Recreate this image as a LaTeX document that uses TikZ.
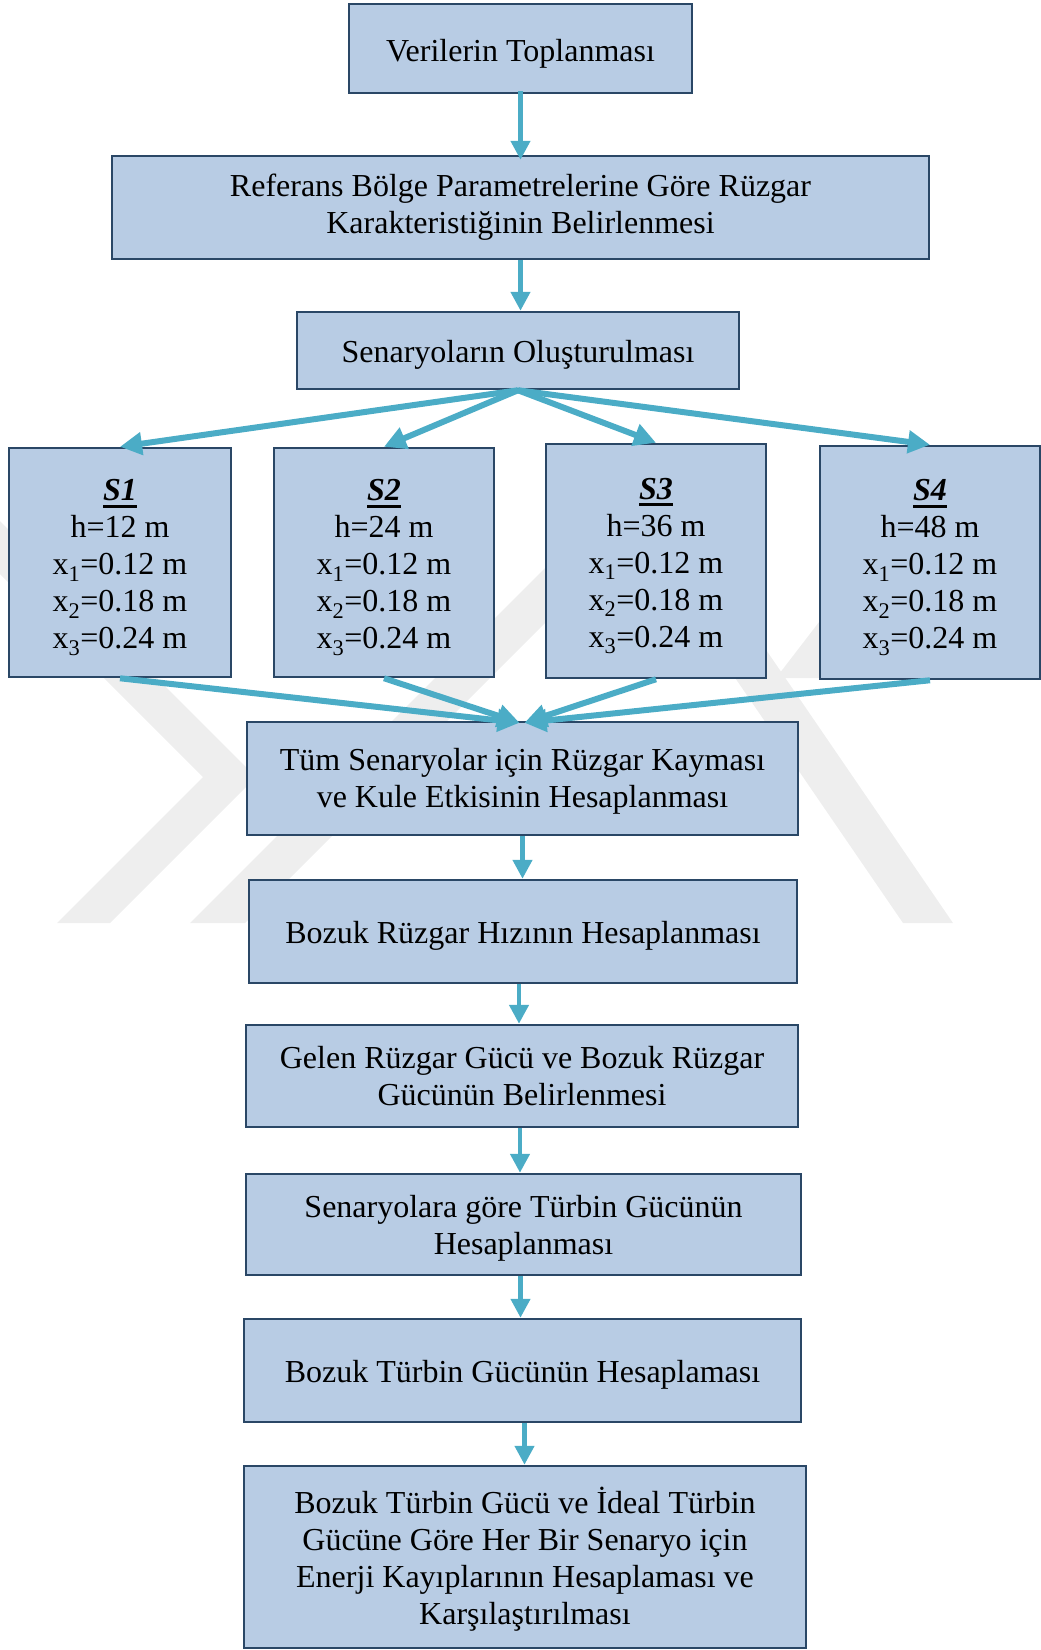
\documentclass[tikz,border=0pt]{standalone}
\usepackage{fontspec}
\setmainfont{Liberation Serif}
\usetikzlibrary{arrows.meta}
\definecolor{boxfill}{HTML}{B8CCE4}
\definecolor{boxline}{HTML}{2A4766}
\definecolor{flow}{HTML}{4BACC6}
\definecolor{markgray}{HTML}{EEEEEE}
% text block lowered by #1 pt inside its box, lines of equal height
\newcommand\stagetext[2]{\raisebox{-#1pt}[\height][\depth]{\begin{tabular}{@{}c@{}}#2\end{tabular}}}
% heavy underline for the scenario labels
\newlength\ulwidth
\newcommand\heavyul[1]{\settowidth{\ulwidth}{#1}#1\llap{\rule[-7pt]{\ulwidth}{3.2pt}}}
\newcommand\scen[1]{\heavyul{\textbf{\textit{#1}}}}
\begin{document}
\begin{tikzpicture}[x=1pt,y=-1pt,
  stage/.style={draw=boxline, line width=2.5pt, fill=boxfill, inner sep=0pt,
    font=\fontsize{32}{37}\selectfont},
  flowarrow/.style={draw=flow, line width=4.5pt, -{Triangle[length=19pt,width=19pt]}},
  fanarrow/.style={draw=flow, line width=6pt, -{Triangle[length=22pt,width=22pt]}}]
\useasboundingbox (0,0) rectangle (1041,1650);

% faint background emblem
\begin{scope}
  \clip (0,0) rectangle (1041,1650);
  \fill[markgray] (-30,491) -- (256,777) -- (110,923) -- (57,923) -- (203,777) -- (-30,544) -- cycle;
  \fill[markgray] (190,923) -- (643,470) -- (953,923) -- (903,923) -- (635.5,532.5) -- (245,923) -- cycle;
  \fill[markgray] (776,678) -- (936,470) -- (991,470) -- (831,678) -- cycle;
\end{scope}

% process steps
\node[stage, minimum width=343pt, minimum height=89pt] (data) at (520.5,48.5)
  {\stagetext{6}{Verilerin Toplanması}};
\node[stage, minimum width=817pt, minimum height=103pt] (ref) at (520.5,207.5)
  {\stagetext{0}{Referans Bölge Parametrelerine Göre Rüzgar\\Karakteristiğinin Belirlenmesi}};
\node[stage, minimum width=442pt, minimum height=77pt] (scen) at (518,350.5)
  {\stagetext{5}{Senaryoların Oluşturulması}};

% scenario boxes
\node[stage, minimum width=222pt, minimum height=229pt] (s1) at (120,562.5)
  {\stagetext{5}{\scen{S1}\\h=12 m\\x\textsubscript{1}=0.12 m\\x\textsubscript{2}=0.18 m\\x\textsubscript{3}=0.24 m}};
\node[stage, minimum width=220pt, minimum height=229pt] (s2) at (384,562.5)
  {\stagetext{5}{\scen{S2}\\h=24 m\\x\textsubscript{1}=0.12 m\\x\textsubscript{2}=0.18 m\\x\textsubscript{3}=0.24 m}};
\node[stage, minimum width=220pt, minimum height=234pt] (s3) at (656,561)
  {\stagetext{5}{\scen{S3}\\h=36 m\\x\textsubscript{1}=0.12 m\\x\textsubscript{2}=0.18 m\\x\textsubscript{3}=0.24 m}};
\node[stage, minimum width=220pt, minimum height=233pt] (s4) at (930,562.5)
  {\stagetext{5}{\scen{S4}\\h=48 m\\x\textsubscript{1}=0.12 m\\x\textsubscript{2}=0.18 m\\x\textsubscript{3}=0.24 m}};

\node[stage, minimum width=551pt, minimum height=113pt] (shear) at (522.5,778.5)
  {\stagetext{3}{Tüm Senaryolar için Rüzgar Kayması\\ve Kule Etkisinin Hesaplanması}};
\node[stage, minimum width=548pt, minimum height=103pt] (speed) at (523,931.5)
  {\stagetext{5}{Bozuk Rüzgar Hızının Hesaplanması}};
\node[stage, minimum width=552pt, minimum height=102pt] (wind) at (522,1076)
  {\stagetext{4}{Gelen Rüzgar Gücü ve Bozuk Rüzgar\\Gücünün Belirlenmesi}};
\node[stage, minimum width=555pt, minimum height=101pt] (turb) at (523.5,1224.5)
  {\stagetext{4}{Senaryolara göre Türbin Gücünün\\Hesaplanması}};
\node[stage, minimum width=557pt, minimum height=103pt] (dist) at (522.5,1370.5)
  {\stagetext{5}{Bozuk Türbin Gücünün Hesaplaması}};
\node[stage, minimum width=562pt, minimum height=182pt] (loss) at (525,1557)
  {\stagetext{4}{Bozuk Türbin Gücü ve İdeal Türbin\\Gücüne Göre Her Bir Senaryo için\\Enerji Kayıplarının Hesaplaması ve\\Karşılaştırılması}};

% connectors
\draw[flowarrow] ([yshift=3pt]data.south) -- ([yshift=-5pt]data.south |- ref.north);
\draw[flowarrow] (ref.south) -- (ref.south |- scen.north);
\foreach \s in {s1,s2,s3,s4}
  \draw[fanarrow] (scen.south) -- (\s.north);
\draw[fanarrow] (s1.south) -- ([xshift=-3pt,yshift=-2pt]shear.north);
\draw[fanarrow] (s2.south) -- ([xshift=-3pt,yshift=-2pt]shear.north);
\draw[fanarrow] (s3.south) -- ([xshift=2pt,yshift=-2pt]shear.north);
\draw[fanarrow] (s4.south) -- ([xshift=2pt,yshift=-2pt]shear.north);
\draw[flowarrow] (shear.south) -- (shear.south |- speed.north);
\draw[flowarrow] ([xshift=-4pt]speed.south) -- ([xshift=-4pt]speed.south |- wind.north);
\draw[flowarrow] ([xshift=-2pt]wind.south) -- ([xshift=-2pt]wind.south |- turb.north);
\draw[flowarrow] ([xshift=-3pt]turb.south) -- ([xshift=-3pt]turb.south |- dist.north);
\draw[flowarrow] ([xshift=2pt]dist.south) -- ([xshift=2pt]dist.south |- loss.north);
\end{tikzpicture}
\end{document}
